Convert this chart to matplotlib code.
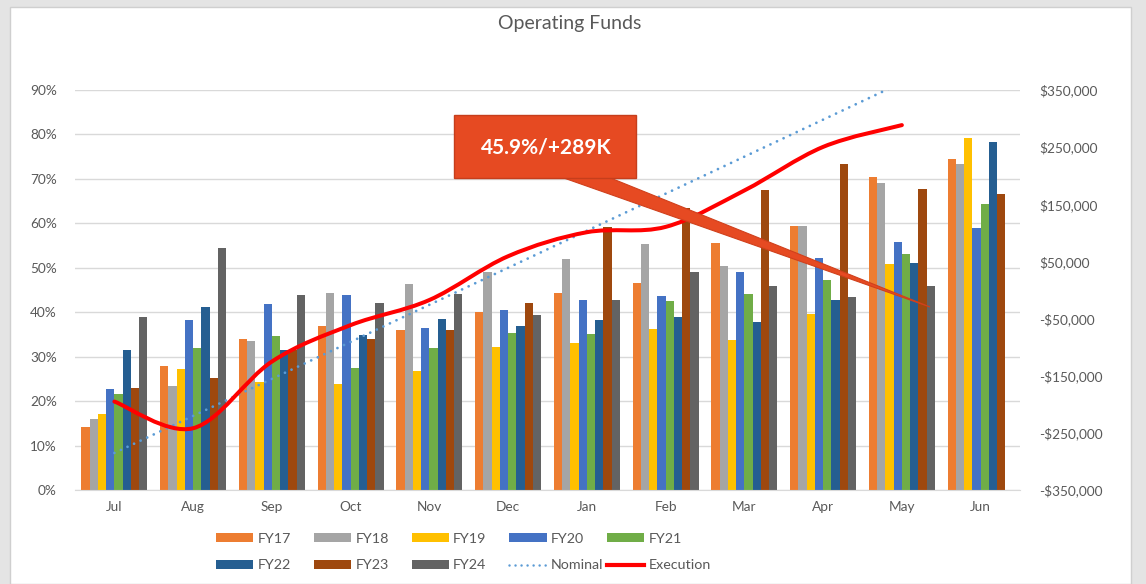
import numpy as np
import matplotlib
matplotlib.use("Agg")
import matplotlib.pyplot as plt
import matplotlib.ticker as ticker
from matplotlib.path import Path
from matplotlib.patches import PathPatch, Rectangle, Polygon, Patch
from matplotlib.lines import Line2D

plt.rcParams['font.family'] = ['Lato', 'DejaVu Sans']

months = ['Jul', 'Aug', 'Sep', 'Oct', 'Nov', 'Dec', 'Jan', 'Feb', 'Mar', 'Apr', 'May', 'Jun']
nan = np.nan
fy17 = [14.1, 27.8, 33.9, 36.9, 35.9, 40.0, 44.3, 46.5, 55.6, 59.4, 70.5, 74.5]
fy18 = [16.0, 23.5, 33.5, 44.3, 46.35, 49.05, 51.9, 55.4, 50.3, 59.4, 69.1, 73.35]
fy19 = [17.2, 27.2, 24.2, 23.9, 26.8, 32.2, 33.1, 36.2, 33.75, 39.5, 50.85, 79.2]
fy20 = [22.7, 38.25, 41.9, 43.8, 36.4, 40.4, 42.8, 43.65, 49.0, 52.1, 55.7, 58.95]
fy21 = [21.6, 31.9, 34.7, 27.45, 31.9, 35.3, 35.2, 42.5, 44.0, 47.3, 53.0, 64.4]
fy22 = [31.6, 41.2, 31.5, 34.9, 38.4, 37.0, 38.2, 38.85, 37.9, 42.8, 51.15, 78.2]
fy23 = [22.9, 25.3, 31.4, 33.9, 36.1, 42.0, 59.1, 63.4, 67.6, 73.4, 67.8, 66.6]
fy24 = [39.0, 54.5, 43.8, 42.1, 44.2, 39.4, 42.7, 49.1, 46.0, 43.35, 45.8, nan]
nominal = [8.33, 16.67, 25.0, 33.33, 41.67, 50.0, 58.33, 66.67, 75.0, 83.33, 91.67, 100.0]
execution = [19.9, 13.9, 28.9, 37.1, 42.75, 52.6, 58.0, 59.2, 67.4, 77.2, 82.1]

series = [('FY17', fy17, '#ED7D31'), ('FY18', fy18, '#A5A5A5'), ('FY19', fy19, '#FFC000'),
          ('FY20', fy20, '#4472C4'), ('FY21', fy21, '#70AD47'), ('FY22', fy22, '#255E91'),
          ('FY23', fy23, '#9E480E'), ('FY24', fy24, '#636363')]

W, H = 1146, 584
fig = plt.figure(figsize=(W / 100, H / 100), dpi=100, facecolor='#E4E4E4')
fig.patches.append(Rectangle((10 / W, 0), 1121 / W, 1 - 7 / H, transform=fig.transFigure,
                             facecolor='white', edgecolor='#CFCFCF', lw=1, zorder=-1))

ax = fig.add_axes([75 / W, 1 - 490 / H, 945 / W, 400 / H])
ax.patch.set_alpha(0)
ax.set_zorder(1)
grey = '#595959'

x = np.arange(len(months))
bw = 0.105
for k, (name, vals, col) in enumerate(series):
    ax.bar(x + (k - 3.5) * bw, vals, bw, color=col, zorder=2)

ax.plot(x, nominal, color='#5B9BD5', lw=2.0, dashes=(0.01, 2.6), dash_capstyle='round', zorder=3)

# smoothed execution line (Excel-style cubic bezier through the points)
pts = np.column_stack([x[:len(execution)], execution])
verts = [pts[0]]
codes = [Path.MOVETO]
n = len(pts)
for i in range(n - 1):
    p0 = pts[max(i - 1, 0)]
    p1 = pts[i]
    p2 = pts[i + 1]
    p3 = pts[min(i + 2, n - 1)]
    verts += [p1 + (p2 - p0) / 6, p2 - (p3 - p1) / 6, p2]
    codes += [Path.CURVE4] * 3
ax.add_patch(PathPatch(Path(verts, codes), fill=False, ec='#FF0000', lw=2.9,
                       capstyle='round', joinstyle='round', zorder=4))

ax.set_xlim(-0.5, len(months) - 0.5)
ax.set_ylim(0, 90)
ax.set_yticks(np.arange(0, 91, 10))
ax.yaxis.set_major_formatter(ticker.FuncFormatter(lambda v, p: '%d%%' % v))
ax.set_xticks(x)
ax.set_xticklabels(months)
ax.grid(axis='y', color='#D9D9D9', lw=1)
ax.set_axisbelow(True)
for s in ['top', 'left', 'right']:
    ax.spines[s].set_visible(False)
ax.spines['bottom'].set_color('#D9D9D9')
ax.tick_params(axis='y', length=0, pad=13, labelsize=9.8, labelcolor=grey)
ax.tick_params(axis='x', length=0, pad=8, labelsize=9.8, labelcolor=grey)

rax = ax.twinx()
rax.set_zorder(2)
rax.patch.set_alpha(0)
rax.set_ylim(-350000, 350000)
rax.set_yticks(np.arange(-350000, 350001, 100000))
rax.yaxis.set_major_formatter(ticker.FuncFormatter(
    lambda v, p: ('-$' if v < 0 else '$') + format(int(abs(v)), ',')))
for s in rax.spines.values():
    s.set_visible(False)
rax.tick_params(axis='y', length=0, pad=14, labelsize=9.8, labelcolor=grey)

fig.text(570 / W, 1 - 23 / H, 'Operating Funds', ha='center', va='center', fontsize=14, color=grey)

# callout
def px(a, b):
    return (a / W, 1 - b / H)

fig.patches.append(Polygon([px(561, 177), px(608, 177), px(930, 307)], closed=True,
                           transform=fig.transFigure, facecolor='#E64A22', edgecolor='#D0401C',
                           lw=0.8, zorder=5))
fig.patches.append(Rectangle(px(454, 178), 182 / W, 63 / H, transform=fig.transFigure,
                             facecolor='#E64A22', edgecolor='#C63E1C', lw=1, zorder=6))
fig.text(546 / W, 1 - 147 / H, '45.9%/+289K', ha='center', va='center', fontsize=15,
         fontweight='bold', color='white', zorder=7)

# legend: two rows, five evenly spaced columns
handles = [Patch(facecolor=c, label=nm) for nm, _, c in series]
handles.append(Line2D([], [], color='#5B9BD5', lw=1.8, dashes=(0.01, 2.4), dash_capstyle='round', label='Nominal'))
handles.append(Line2D([], [], color='#FF0000', lw=3, label='Execution'))
for c in range(5):
    leg = fig.legend(handles=[handles[c], handles[c + 5]], loc='upper left',
                     frameon=False, fontsize=10.3, handlelength=2.6, handleheight=0.6,
                     handletextpad=0.3, labelspacing=1.0, borderpad=0, borderaxespad=0)
    leg.set_bbox_to_anchor(((216 + c * 97.8) / W, 1 - 533 / H), transform=fig.transFigure)
    leg.set_zorder(8)
    for t in leg.get_texts():
        t.set_color(grey)

fig.savefig('out.png', dpi=100, facecolor=fig.get_facecolor())
